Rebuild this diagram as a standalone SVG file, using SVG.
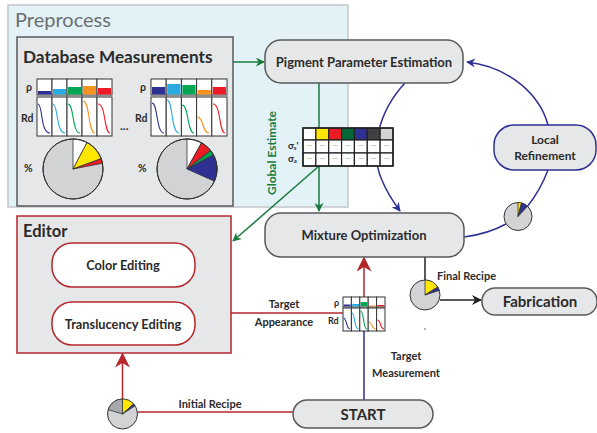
<svg xmlns="http://www.w3.org/2000/svg" width="597" height="433" viewBox="0 0 597 433">
<defs>
<style>
text{font-family:Lato,"Open Sans","Liberation Sans",sans-serif;fill:#2b2b2b;}
.b{font-weight:bold;}
.node{fill:#e6e7e8;stroke:#58595b;stroke-width:1.5;}
.red{fill:#fff;stroke:#b5262b;stroke-width:1.5;}
.g{stroke:#1b7a3e;stroke-width:1.5;fill:none;}
.bl{stroke:#2e3192;stroke-width:1.5;fill:none;}
.rd{stroke:#b5262b;stroke-width:1.5;fill:none;}
.bk{stroke:#222;stroke-width:1.5;fill:none;}
.cell{fill:#fff;stroke:#222;stroke-width:1.2;}
.pie{fill:#d1d3d4;stroke:#333;stroke-width:1;}
.sl{stroke:#333;stroke-width:0.8;}
.sp{fill:none;stroke-width:1.1;}
.dash{font-size:5px;fill:#666;text-anchor:middle;}
</style>
<marker id="ag" viewBox="0 0 10 10" refX="9" refY="5" markerWidth="9" markerHeight="9" markerUnits="userSpaceOnUse" orient="auto"><path d="M0,0 L10,5 L0,10 L3,5 z" fill="#1b7a3e"/></marker>
<marker id="ab" viewBox="0 0 10 10" refX="9" refY="5" markerWidth="9" markerHeight="9" markerUnits="userSpaceOnUse" orient="auto"><path d="M0,0 L10,5 L0,10 L3,5 z" fill="#2e3192"/></marker>
<marker id="ar" viewBox="0 0 10 10" refX="9" refY="5" markerWidth="17" markerHeight="15" markerUnits="userSpaceOnUse" orient="auto"><path d="M0,0 L10,5 L0,10 L3,5 z" fill="#b5262b"/></marker>
<marker id="ak" viewBox="0 0 10 10" refX="9" refY="5" markerWidth="10" markerHeight="10" markerUnits="userSpaceOnUse" orient="auto"><path d="M0,0 L10,5 L0,10 L3,5 z" fill="#222"/></marker>
</defs>
<rect width="597" height="433" fill="#fff"/>

<g id="preprocess">
<rect x="8" y="5" width="340" height="202" fill="#e3f2f6" stroke="#c3c8cb" stroke-width="1.5"/>
<text x="15" y="27" font-size="20" style="fill:#6d6e71">Preprocess</text>
</g>

<g id="database">
<rect x="17" y="37" width="216" height="169" fill="#e6e7e8" stroke="#58595b" stroke-width="1.5"/>
<text x="23" y="63" font-size="17.2" class="b">Database Measurements</text>
<!-- left chart -->
<text x="26" y="91" font-size="10.5" class="b">ρ</text>
<text x="21" y="122" font-size="10.5" class="b">Rd</text>
<text x="24" y="172" font-size="10.5" class="b">%</text>
<g>
<rect x="37" y="79" width="15" height="16" fill="#fff" stroke="#333"/>
<rect x="52" y="79" width="15" height="16" fill="#fff" stroke="#333"/>
<rect x="67" y="79" width="15" height="16" fill="#fff" stroke="#333"/>
<rect x="82" y="79" width="15" height="16" fill="#fff" stroke="#333"/>
<rect x="97" y="79" width="15" height="16" fill="#fff" stroke="#333"/>
<rect x="38" y="91" width="13" height="3.5" fill="#2e3192"/>
<rect x="53" y="89" width="13" height="5.5" fill="#29abe2"/>
<rect x="68" y="87" width="13" height="7.5" fill="#00a651"/>
<rect x="83" y="86" width="13" height="8.5" fill="#f7931e"/>
<rect x="98" y="88" width="13" height="6.5" fill="#ed1c24"/>
<rect x="37" y="97" width="15" height="39" fill="#fff" stroke="#333"/>
<rect x="52" y="97" width="15" height="39" fill="#fff" stroke="#333"/>
<rect x="67" y="97" width="15" height="39" fill="#fff" stroke="#333"/>
<rect x="82" y="97" width="15" height="39" fill="#fff" stroke="#333"/>
<rect x="97" y="97" width="15" height="39" fill="#fff" stroke="#333"/>
<path class="sp" stroke="#2e3192" d="M38,104 C43,104 40,133 50,133"/>
<path class="sp" stroke="#29abe2" d="M53,104 C58,104 56,133 65,133"/>
<path class="sp" stroke="#00a651" d="M68,104 C74,104 72,133 80,133"/>
<path class="sp" stroke="#f7931e" d="M83,101 C90,101 88,133 95,133"/>
<path class="sp" stroke="#ed1c24" d="M98,104 C106,104 104,133 110,133"/>
</g>
<circle class="pie" cx="73" cy="169" r="30"/>
<path d="M73,169 L73,139 A30,30 0 0 1 87.1,142.5 Z" fill="#fff" class="sl"/>
<path d="M73,169 L87.1,142.5 A30,30 0 0 1 101.2,158.7 Z" fill="#ffe600" class="sl"/>
<path d="M73,169 L101.2,158.7 A30,30 0 0 1 102.5,163.3 Z" fill="#ed1c24" class="sl"/>
<circle cx="73" cy="169" r="30" fill="none" stroke="#333" stroke-width="1"/>
<text x="120" y="130" font-size="12" class="b">...</text>
<!-- right chart -->
<text x="140" y="91" font-size="10.5" class="b">ρ</text>
<text x="135" y="122" font-size="10.5" class="b">Rd</text>
<text x="138" y="172" font-size="10.5" class="b">%</text>
<g>
<rect x="151" y="79" width="15.2" height="16" fill="#fff" stroke="#333"/>
<rect x="166.2" y="79" width="15.2" height="16" fill="#fff" stroke="#333"/>
<rect x="181.4" y="79" width="15.2" height="16" fill="#fff" stroke="#333"/>
<rect x="196.6" y="79" width="15.2" height="16" fill="#fff" stroke="#333"/>
<rect x="211.8" y="79" width="15.2" height="16" fill="#fff" stroke="#333"/>
<rect x="152" y="87" width="13.2" height="7.5" fill="#2e3192"/>
<rect x="167.2" y="84" width="13.2" height="10.5" fill="#29abe2"/>
<rect x="182.4" y="85" width="13.2" height="9.5" fill="#00a651"/>
<rect x="197.6" y="90" width="13.2" height="4.5" fill="#f7931e"/>
<rect x="212.8" y="87" width="13.2" height="7.5" fill="#ed1c24"/>
<rect x="151" y="97" width="15.2" height="39" fill="#fff" stroke="#333"/>
<rect x="166.2" y="97" width="15.2" height="39" fill="#fff" stroke="#333"/>
<rect x="181.4" y="97" width="15.2" height="39" fill="#fff" stroke="#333"/>
<rect x="196.6" y="97" width="15.2" height="39" fill="#fff" stroke="#333"/>
<rect x="211.8" y="97" width="15.2" height="39" fill="#fff" stroke="#333"/>
<path class="sp" stroke="#2e3192" d="M152,103 C158,103 156,133 164,133"/>
<path class="sp" stroke="#29abe2" d="M167,100 C173,100 171,133 179,133"/>
<path class="sp" stroke="#00a651" d="M182,105 C189,105 187,133 194,133"/>
<path class="sp" stroke="#f7931e" d="M197,117 C204,117 202,133 209,133"/>
<path class="sp" stroke="#ed1c24" d="M213,104 C221,104 219,133 225,133"/>
</g>
<circle class="pie" cx="187" cy="169" r="30"/>
<path d="M187,169 L187,139 A30,30 0 0 1 201.5,142.8 Z" fill="#fff" class="sl"/>
<path d="M187,169 L201.5,142.8 A30,30 0 0 1 210.6,150.5 Z" fill="#ed1c24" class="sl"/>
<path d="M187,169 L210.6,150.5 A30,30 0 0 1 213.5,154.9 Z" fill="#00a651" class="sl"/>
<path d="M187,169 L213.5,154.9 A30,30 0 0 1 214.4,181.2 Z" fill="#2e3192" class="sl"/>
<circle cx="187" cy="169" r="30" fill="none" stroke="#333" stroke-width="1"/>
</g>

<g id="connectors">
<line class="g" x1="233" y1="62" x2="264" y2="62" marker-end="url(#ag)"/>
<line class="g" x1="319" y1="83" x2="319" y2="211" marker-end="url(#ag)"/>
<line class="g" x1="319" y1="166" x2="233" y2="241" marker-end="url(#ag)"/>
<path class="bl" d="M405,83 C378,112 370,150 381,178 C387,193 394,203 400,211" marker-end="url(#ab)"/>
<path class="bl" d="M548,125 C540,95 510,67 467,62" marker-end="url(#ab)"/>
<path class="bl" d="M548,170 C542,186 535,197 527,207"/>
<path class="bl" d="M506,224 C495,230 480,235 464,237"/>
<line x1="364" y1="400" x2="364" y2="331" stroke="#2e3192" stroke-width="1.5"/>
<line class="rd" x1="364" y1="297" x2="364" y2="258" marker-end="url(#ar)"/>
<line class="rd" x1="231" y1="313" x2="343" y2="313"/>
<line class="rd" x1="122.5" y1="399" x2="122.5" y2="354" marker-end="url(#ar)"/>
<line class="rd" x1="137.5" y1="412" x2="293" y2="412"/>
<line class="bk" x1="425" y1="257" x2="425" y2="295"/>
<line class="bk" x1="440" y1="300" x2="481" y2="300" marker-end="url(#ak)"/>
</g>

<g id="labels">
<text x="276" y="153" font-size="12" class="b" text-anchor="middle" transform="rotate(-90 276 153)" style="fill:#1b7a3e">Global Estimate</text>
<text x="210" y="408" font-size="11" class="b" text-anchor="middle">Initial Recipe</text>
<text x="284" y="308" font-size="11" class="b" text-anchor="middle">Target</text>
<text x="284" y="326" font-size="11" class="b" text-anchor="middle">Appearance</text>
<text x="406" y="360" font-size="11" class="b" text-anchor="middle">Target</text>
<text x="406" y="377" font-size="11" class="b" text-anchor="middle">Measurement</text>
<text x="437" y="280" font-size="11" class="b">Final Recipe</text>
<circle cx="425" cy="329" r="0.7" fill="#333"/>
</g>

<g id="global-table">
<text x="288" y="149" font-size="9.5" class="b">σ<tspan font-size="6" dy="1">s</tspan><tspan dy="-1">'</tspan></text>
<text x="288" y="162" font-size="9.5" class="b">σ<tspan font-size="6" dy="1">a</tspan></text>
<rect x="303" y="128" width="12.86" height="12" fill="#f1f2f2" class="cell"/>
<rect x="315.86" y="128" width="12.86" height="12" fill="#ffe600" stroke="#222" stroke-width="1.2"/>
<rect x="328.71" y="128" width="12.86" height="12" fill="#ed1c24" stroke="#222" stroke-width="1.2"/>
<rect x="341.57" y="128" width="12.86" height="12" fill="#006838" stroke="#222" stroke-width="1.2"/>
<rect x="354.43" y="128" width="12.86" height="12" fill="#2e3192" stroke="#222" stroke-width="1.2"/>
<rect x="367.29" y="128" width="12.86" height="12" fill="#414042" stroke="#222" stroke-width="1.2"/>
<rect x="380.14" y="128" width="12.86" height="12" fill="#d1d3d4" stroke="#222" stroke-width="1.2"/>
<g>
<rect class="cell" x="303" y="140" width="12.86" height="13"/>
<rect class="cell" x="315.86" y="140" width="12.86" height="13"/>
<rect class="cell" x="328.71" y="140" width="12.86" height="13"/>
<rect class="cell" x="341.57" y="140" width="12.86" height="13"/>
<rect class="cell" x="354.43" y="140" width="12.86" height="13"/>
<rect class="cell" x="367.29" y="140" width="12.86" height="13"/>
<rect class="cell" x="380.14" y="140" width="12.86" height="13"/>
<rect class="cell" x="303" y="153" width="12.86" height="13"/>
<rect class="cell" x="315.86" y="153" width="12.86" height="13"/>
<rect class="cell" x="328.71" y="153" width="12.86" height="13"/>
<rect class="cell" x="341.57" y="153" width="12.86" height="13"/>
<rect class="cell" x="354.43" y="153" width="12.86" height="13"/>
<rect class="cell" x="367.29" y="153" width="12.86" height="13"/>
<rect class="cell" x="380.14" y="153" width="12.86" height="13"/>
</g>
<g class="dash">
<text class="dash" x="309.4" y="147">---</text><text class="dash" x="322.3" y="147">---</text><text class="dash" x="335.1" y="147">---</text><text class="dash" x="348" y="147">---</text><text class="dash" x="360.9" y="147">---</text><text class="dash" x="373.7" y="147">---</text><text class="dash" x="386.6" y="147">---</text>
<text class="dash" x="309.4" y="160">---</text><text class="dash" x="322.3" y="160">---</text><text class="dash" x="335.1" y="160">---</text><text class="dash" x="348" y="160">---</text><text class="dash" x="360.9" y="160">---</text><text class="dash" x="373.7" y="160">---</text><text class="dash" x="386.6" y="160">---</text>
</g>
<rect x="303" y="128" width="90" height="38" fill="none" stroke="#222" stroke-width="1.5"/>
</g>

<g id="pigment-estimation">
<rect class="node" x="265" y="40" width="198" height="43" rx="16"/>
<text x="364" y="67" font-size="13" class="b" text-anchor="middle">Pigment Parameter Estimation</text>
</g>

<g id="mixture-optimization">
<rect class="node" x="265" y="213" width="199" height="44" rx="16"/>
<text x="364" y="240" font-size="13" class="b" text-anchor="middle">Mixture Optimization</text>
</g>

<g id="local-refinement">
<rect x="494" y="125" width="102" height="45" rx="20" fill="#e6e7e8" stroke="#2e3192" stroke-width="1.5"/>
<text x="545" y="144" font-size="12" class="b" text-anchor="middle">Local</text>
<text x="545" y="160" font-size="12" class="b" text-anchor="middle">Refinement</text>
</g>

<g id="local-pie">
<circle class="pie" cx="518" cy="216.5" r="14"/>
<path d="M518,216.5 L518,202.5 A14,14 0 0 1 521.6,203 Z" fill="#ffe600" class="sl"/>
<path d="M518,216.5 L521.6,203 A14,14 0 0 1 527.5,206.3 Z" fill="#2e3192" class="sl"/>
</g>

<g id="editor">
<rect x="17" y="216" width="214" height="137" fill="#e6e7e8" stroke="#b5262b" stroke-width="1.5"/>
<text x="23" y="237" font-size="16.5" class="b">Editor</text>
</g>

<g id="color-editing">
<rect class="red" x="52" y="243" width="143" height="44" rx="20"/>
<text x="123" y="270" font-size="12.8" class="b" text-anchor="middle">Color Editing</text>
</g>

<g id="translucency-editing">
<rect class="red" x="52" y="302" width="143" height="43" rx="20"/>
<text x="123" y="329" font-size="12.8" class="b" text-anchor="middle">Translucency Editing</text>
</g>

<g id="target-spectrum">
<text x="334" y="306" font-size="9" class="b">ρ</text>
<text x="328" y="324" font-size="9" class="b">Rd</text>
<rect x="343" y="297" width="8.4" height="10" fill="#fff" stroke="#333"/>
<rect x="351.4" y="297" width="8.4" height="10" fill="#fff" stroke="#333"/>
<rect x="359.8" y="297" width="8.4" height="10" fill="#fff" stroke="#333"/>
<rect x="368.2" y="297" width="8.4" height="10" fill="#fff" stroke="#333"/>
<rect x="376.6" y="297" width="8.4" height="10" fill="#fff" stroke="#333"/>
<rect x="343.8" y="304.5" width="6.8" height="1.8" fill="#2e3192"/>
<rect x="352.2" y="304" width="6.8" height="2.3" fill="#29abe2"/>
<rect x="360.6" y="302" width="6.8" height="4.3" fill="#00a651"/>
<rect x="369" y="305.5" width="6.8" height="0.8" fill="#f7931e"/>
<rect x="377.4" y="305" width="6.8" height="1.3" fill="#ed1c24"/>
<rect x="343" y="308" width="8.4" height="23" fill="#fff" stroke="#333"/>
<rect x="351.4" y="308" width="8.4" height="23" fill="#fff" stroke="#333"/>
<rect x="359.8" y="308" width="8.4" height="23" fill="#fff" stroke="#333"/>
<rect x="368.2" y="308" width="8.4" height="23" fill="#fff" stroke="#333"/>
<rect x="376.6" y="308" width="8.4" height="23" fill="#fff" stroke="#333"/>
<path class="sp" stroke="#2e3192" d="M343.5,318 C347,318 346,329 350,329"/>
<path class="sp" stroke="#29abe2" d="M352,313 C355,313 354,329 358.5,329"/>
<path class="sp" stroke="#00a651" d="M360.5,311 C364,311 363,329 367,329"/>
<path class="sp" stroke="#f7931e" d="M369,322 C372,322 372,329 375.5,329"/>
<path class="sp" stroke="#ed1c24" d="M377.5,320 C381,320 380,329 384,329"/>
</g>

<g id="final-pie">
<circle class="pie" cx="425" cy="295" r="15"/>
<path d="M425,295 L425,280 A15,15 0 0 1 437.7,287.1 Z" fill="#ffe600" class="sl"/>
<path d="M425,295 L437.7,287.1 A15,15 0 0 1 439.3,290.4 Z" fill="#2e3192" class="sl"/>
</g>

<g id="fabrication">
<rect class="node" x="482" y="288" width="115" height="27" rx="13"/>
<text x="540" y="307" font-size="15" class="b" text-anchor="middle">Fabrication</text>
</g>

<g id="initial-pie">
<circle class="pie" cx="122.5" cy="414" r="15"/>
<path d="M122.5,414 L108.2,409.6 A15,15 0 0 1 122.5,399 Z" fill="#a7a9ac" class="sl"/>
<path d="M122.5,414 L122.5,399 A15,15 0 0 1 133.6,404 Z" fill="#ffe600" class="sl"/>
<path d="M122.5,414 L133.6,404 A15,15 0 0 1 135.1,405.8 Z" fill="#2e3192" class="sl"/>
</g>

<g id="start">
<rect class="node" x="293" y="400" width="140" height="28" rx="14"/>
<text x="363" y="420" font-size="15" class="b" text-anchor="middle">START</text>
</g>
</svg>
